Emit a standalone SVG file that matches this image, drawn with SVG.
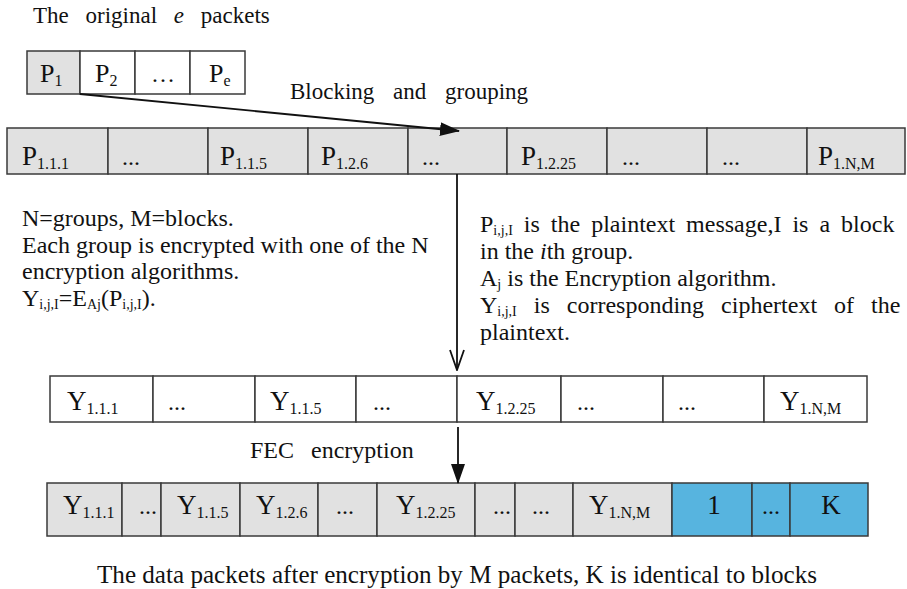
<svg xmlns="http://www.w3.org/2000/svg" width="907" height="589" viewBox="0 0 907 589">
  <style>
    text { font-family: "Liberation Serif", "Times New Roman", serif; fill: #111; }
    .t { font-size: 24px; }
    .lbl { font-size: 27px; }
    .sub { font-size: 16px; }
    .nsub { font-size: 14px; }
    .cell { stroke: #3a3a3a; stroke-width: 1.5; }
    .gray { fill: #e1e1e1; }
    .white { fill: #ffffff; }
    .blue { fill: #57b4df; }
    .conn { stroke: #111; stroke-width: 1.8; fill: none; }
  </style>
  <defs>
    <marker id="solid" viewBox="0 0 20 14" refX="19" refY="7" markerWidth="20" markerHeight="14" markerUnits="userSpaceOnUse" orient="auto">
      <path d="M0,0 L20,7 L0,14 Z" fill="#111"/>
    </marker>
    <marker id="open" viewBox="0 0 22 16" refX="21" refY="8" markerWidth="22" markerHeight="16" markerUnits="userSpaceOnUse" orient="auto">
      <path d="M1,1 L21,8 L1,15" fill="none" stroke="#111" stroke-width="1.8"/>
    </marker>
  </defs>

  <!-- heading over the source packets -->
  <text x="33" y="23" style="font-size:23px" word-spacing="11">The original <tspan font-style="italic">e</tspan> packets</text>

  <!-- source packets P1..Pe -->
  <g id="source-packets">
    <rect class="cell gray" x="27" y="51" width="53" height="43"/>
    <rect class="cell white" x="80" y="51" width="55" height="43"/>
    <rect class="cell white" x="135" y="51" width="55" height="43"/>
    <rect class="cell white" x="190" y="51" width="55" height="43"/>
    <text class="t" x="40" y="82" style="font-size:26px">P<tspan class="sub" dy="4">1</tspan></text>
    <text class="t" x="95" y="82" style="font-size:26px">P<tspan class="sub" dy="4">2</tspan></text>
    <text class="t" x="151" y="82">…</text>
    <text class="t" x="209" y="82" style="font-size:26px">P<tspan class="sub" dy="4">e</tspan></text>
  </g>

  <text x="290" y="99" style="font-size:23px" word-spacing="13">Blocking and grouping</text>

  <!-- plaintext blocks -->
  <g id="plaintext-blocks">
    <rect class="cell gray" x="7" y="128" width="101" height="46"/>
    <rect class="cell gray" x="108" y="128" width="100" height="46"/>
    <rect class="cell gray" x="208" y="128" width="100" height="46"/>
    <rect class="cell gray" x="308" y="128" width="100" height="46"/>
    <rect class="cell gray" x="408" y="128" width="99" height="46"/>
    <rect class="cell gray" x="507" y="128" width="100" height="46"/>
    <rect class="cell gray" x="607" y="128" width="100" height="46"/>
    <rect class="cell gray" x="707" y="128" width="100" height="46"/>
    <rect class="cell gray" x="807" y="128" width="98" height="46"/>
    <text class="lbl" x="22" y="165">P<tspan class="sub" dy="4">1.1.1</tspan></text>
    <text class="t" x="122" y="165">...</text>
    <text class="lbl" x="220" y="165">P<tspan class="sub" dy="4">1.1.5</tspan></text>
    <text class="lbl" x="321" y="165">P<tspan class="sub" dy="4">1.2.6</tspan></text>
    <text class="t" x="422" y="165">...</text>
    <text class="lbl" x="521" y="165">P<tspan class="sub" dy="4">1.2.25</tspan></text>
    <text class="t" x="622" y="165">...</text>
    <text class="t" x="722" y="165">...</text>
    <text class="lbl" x="818" y="165">P<tspan class="sub" dy="4">1.N,M</tspan></text>
  </g>

  <!-- notes on grouping and encryption -->
  <g id="notes-left">
    <text class="t" x="22" y="226">N=groups, M=blocks.</text>
    <text class="t" x="22" y="253">Each group is encrypted with one of the N</text>
    <text class="t" x="22" y="279">encryption algorithms.</text>
    <text class="t" x="22" y="306">Y<tspan class="nsub" dy="3">i,j,I</tspan><tspan dy="-3">=E</tspan><tspan class="nsub" dy="3">Aj</tspan><tspan dy="-3">(P</tspan><tspan class="nsub" dy="3">i,j,I</tspan><tspan dy="-3">).</tspan></text>
  </g>
  <g id="notes-right">
    <text class="t" x="480" y="232" word-spacing="5">P<tspan class="nsub" dy="3">i,j,I</tspan><tspan dy="-3"> is the plaintext message,I is a block</tspan></text>
    <text class="t" x="480" y="259">in the <tspan font-style="italic">i</tspan>th group.</text>
    <text class="t" x="480" y="286">A<tspan class="nsub" dy="3">j</tspan><tspan dy="-3"> is the Encryption algorithm.</tspan></text>
    <text class="t" x="480" y="313" word-spacing="11">Y<tspan class="nsub" dy="3">i,j,I</tspan><tspan dy="-3"> is corresponding ciphertext of the</tspan></text>
    <text class="t" x="480" y="340">plaintext.</text>
  </g>

  <!-- ciphertext blocks -->
  <g id="ciphertext-blocks">
    <rect class="cell white" x="50" y="376" width="103" height="46"/>
    <rect class="cell white" x="153" y="376" width="102" height="46"/>
    <rect class="cell white" x="255" y="376" width="101" height="46"/>
    <rect class="cell white" x="356" y="376" width="101" height="46"/>
    <rect class="cell white" x="457" y="376" width="104" height="46"/>
    <rect class="cell white" x="561" y="376" width="102" height="46"/>
    <rect class="cell white" x="663" y="376" width="101" height="46"/>
    <rect class="cell white" x="764" y="376" width="103" height="46"/>
    <text class="lbl" x="67" y="410">Y<tspan class="sub" dy="4">1.1.1</tspan></text>
    <text class="t" x="168" y="410">...</text>
    <text class="lbl" x="270" y="410">Y<tspan class="sub" dy="4">1.1.5</tspan></text>
    <text class="t" x="373" y="410">...</text>
    <text class="lbl" x="476" y="410">Y<tspan class="sub" dy="4">1.2.25</tspan></text>
    <text class="t" x="577" y="410">...</text>
    <text class="t" x="678" y="410">...</text>
    <text class="lbl" x="780" y="410">Y<tspan class="sub" dy="4">1.N,M</tspan></text>
  </g>

  <text class="t" x="250" y="458" word-spacing="11">FEC encryption</text>

  <!-- encrypted packets with FEC parity -->
  <g id="fec-packets">
    <rect class="cell gray" x="47" y="483" width="75" height="53"/>
    <rect class="cell gray" x="122" y="483" width="39" height="53"/>
    <rect class="cell gray" x="161" y="483" width="79" height="53"/>
    <rect class="cell gray" x="240" y="483" width="78" height="53"/>
    <rect class="cell gray" x="318" y="483" width="59" height="53"/>
    <rect class="cell gray" x="377" y="483" width="98" height="53"/>
    <rect class="cell gray" x="475" y="483" width="40" height="53"/>
    <rect class="cell gray" x="515" y="483" width="58" height="53"/>
    <rect class="cell gray" x="573" y="483" width="99" height="53"/>
    <rect class="cell blue" x="672" y="483" width="80" height="53"/>
    <rect class="cell blue" x="752" y="483" width="38" height="53"/>
    <rect class="cell blue" x="790" y="483" width="78" height="53"/>
    <text class="lbl" x="63" y="514">Y<tspan class="sub" dy="4">1.1.1</tspan></text>
    <text class="t" x="139" y="514">...</text>
    <text class="lbl" x="177" y="514">Y<tspan class="sub" dy="4">1.1.5</tspan></text>
    <text class="lbl" x="256" y="514">Y<tspan class="sub" dy="4">1.2.6</tspan></text>
    <text class="t" x="336" y="514">...</text>
    <text class="lbl" x="396" y="514">Y<tspan class="sub" dy="4">1.2.25</tspan></text>
    <text class="t" x="493" y="514">...</text>
    <text class="t" x="532" y="514">...</text>
    <text class="lbl" x="589" y="514">Y<tspan class="sub" dy="4">1.N,M</tspan></text>
    <text class="lbl" x="714" y="514" text-anchor="middle">1</text>
    <text class="t" x="771" y="514" text-anchor="middle">...</text>
    <text class="lbl" x="831" y="514" text-anchor="middle">K</text>
  </g>

  <text x="97" y="583" style="font-size:25px" textLength="720" lengthAdjust="spacingAndGlyphs">The data packets after encryption by M packets, K is identical to blocks</text>

  <!-- connectors -->
  <g id="connectors">
    <line class="conn" x1="80" y1="94" x2="459" y2="131" marker-end="url(#solid)"/>
    <line class="conn" x1="457" y1="174" x2="457" y2="370" marker-end="url(#open)"/>
    <line class="conn" x1="458" y1="427" x2="458" y2="483" marker-end="url(#solid)"/>
  </g>
</svg>
